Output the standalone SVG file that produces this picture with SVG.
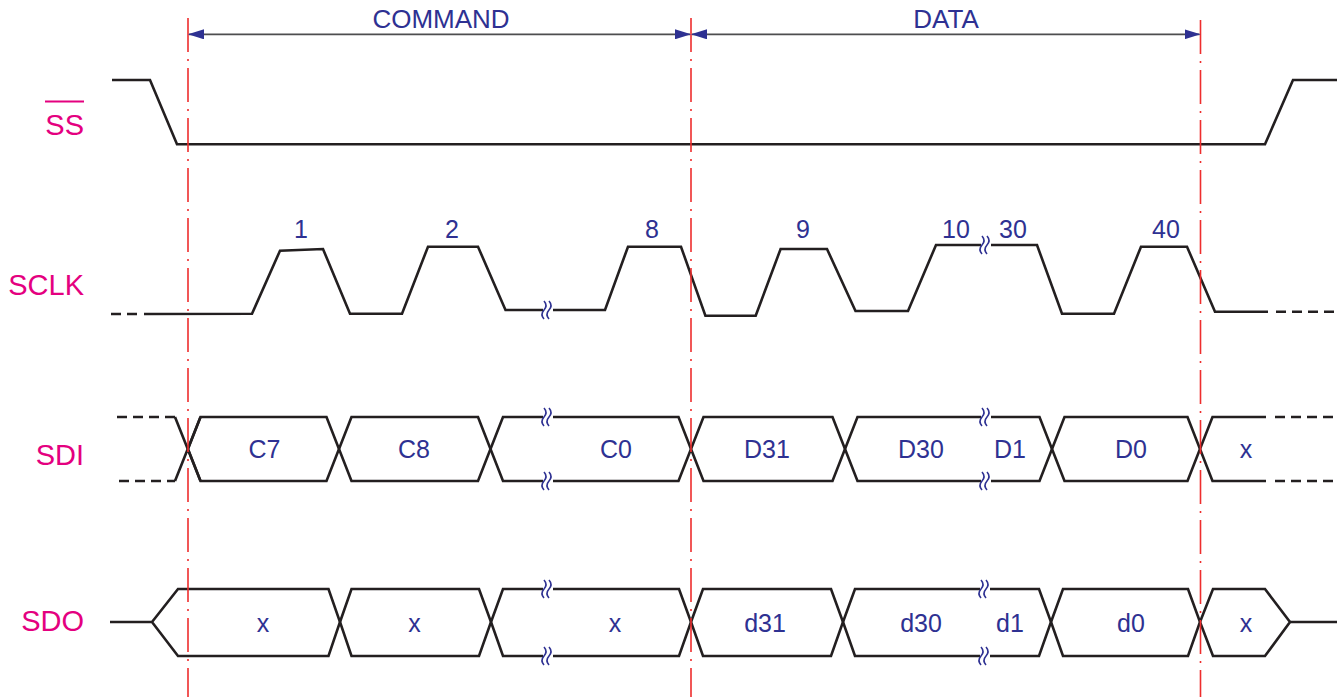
<svg xmlns="http://www.w3.org/2000/svg" xmlns:xlink="http://www.w3.org/1999/xlink" width="1342" height="697" viewBox="0 0 1342 697">
<style>
.w{fill:none;stroke:#231f20;stroke-width:2.6;stroke-linejoin:miter}
.d{fill:none;stroke:#231f20;stroke-width:2.6;stroke-dasharray:10 6}
.sig{font-family:"Liberation Sans",Arial,sans-serif;font-size:29px;fill:#e4007f;text-anchor:end}
.lb{font-family:"Liberation Sans",Arial,sans-serif;font-size:25px;fill:#2e3192;text-anchor:middle}
.hd{font-family:"Liberation Sans",Arial,sans-serif;font-size:26px;fill:#2e3192;text-anchor:middle}
.red{stroke:#ee2d2d;stroke-width:1.6;stroke-dasharray:34 7 2 7;fill:none}
.ar{stroke:#4d4d4f;stroke-width:1.8;fill:none}
.bw{fill:none;stroke:#2e3192;stroke-width:1.6}
</style>
<defs>
<marker id="ah" viewBox="0 0 16 10" refX="15" refY="5" markerWidth="16" markerHeight="10" markerUnits="userSpaceOnUse" orient="auto-start-reverse">
<path d="M0,0 L16,5 L0,10 z" fill="#2e3192"/>
</marker>
<g id="brk">
<rect x="-4" y="-10" width="10" height="20" fill="#fff"/>
<path class="bw" d="M-3,-9 q4,4.5 0,9 q-4,4.5 0,9"/>
<path class="bw" d="M2,-9 q4,4.5 0,9 q-4,4.5 0,9"/>
</g>
</defs>
<rect width="1342" height="697" fill="#fff"/>

<g id="ss">
<text class="sig" x="84" y="135">SS</text>
<line x1="45" y1="101.5" x2="84" y2="101.5" stroke="#e4007f" stroke-width="2"/>
<path class="w" d="M112,80 L150,80 L177,144.3 L1265,144.3 L1293,80 L1337,80"/>
</g>

<g id="sclk">
<text class="sig" x="84" y="295">SCLK</text>
<path class="d" d="M111,314 L140,314"/>
<path class="w" d="M144,314 L252,313.7 L280,250.7 L323,249 L350,313.7 L402,313.7 L428,246.7 L478,246.7 L505.5,310 L605,310 L628,246.7 L681,246.7 L705.4,315.7 L755.7,315.7 L780.6,249 L827,249 L855.5,311 L908,311 L936,245 L1037,245 L1062,313.7 L1114,313.7 L1141,246.7 L1187,246.7 L1215,311.7 L1268,311.7"/>
<path class="d" d="M1276,311.7 L1336,311.7"/>
<use xlink:href="#brk" href="#brk" x="547" y="310"/>
<use xlink:href="#brk" href="#brk" x="985" y="245"/>
<text class="lb" x="301" y="238">1</text>
<text class="lb" x="452" y="238">2</text>
<text class="lb" x="652" y="238">8</text>
<text class="lb" x="803" y="238">9</text>
<text class="lb" x="956" y="238">10</text>
<text class="lb" x="1013" y="238">30</text>
<text class="lb" x="1166" y="238">40</text>
</g>

<g id="sdi">
<text class="sig" x="84" y="465">SDI</text>
<path class="d" d="M117,417 L175,417"/>
<path class="d" d="M119,481 L175,481"/>
<path class="w" d="M175,417 L200.5,481 M175,481 L200.5,417"/>
<path class="w" d="M188,449 L200.5,417 L326.5,417 L339,449 L326.5,481 L200.5,481 Z"/>
<path class="w" d="M339,449 L351.5,417 L478,417 L490.5,449 L478,481 L351.5,481 Z"/>
<path class="w" d="M490.5,449 L503,417 L678.5,417 L691,449 L678.5,481 L503,481 Z"/>
<path class="w" d="M691,449 L703.5,417 L832.5,417 L845,449 L832.5,481 L703.5,481 Z"/>
<path class="w" d="M845,449 L857.5,417 L1039.5,417 L1052,449 L1039.5,481 L857.5,481 Z"/>
<path class="w" d="M1052,449 L1064.5,417 L1187.5,417 L1200,449 L1187.5,481 L1064.5,481 Z"/>
<path class="w" d="M1266,417 L1212.5,417 L1200,449 L1212.5,481 L1266,481"/>
<path class="d" d="M1275,417 L1336,417 M1275,481 L1336,481"/>
<use xlink:href="#brk" href="#brk" x="547" y="417"/>
<use xlink:href="#brk" href="#brk" x="547" y="481"/>
<use xlink:href="#brk" href="#brk" x="985" y="417"/>
<use xlink:href="#brk" href="#brk" x="985" y="481"/>
<text class="lb" x="264.5" y="458">C7</text>
<text class="lb" x="414" y="458">C8</text>
<text class="lb" x="616" y="458">C0</text>
<text class="lb" x="767" y="458">D31</text>
<text class="lb" x="921" y="458">D30</text>
<text class="lb" x="1010" y="458">D1</text>
<text class="lb" x="1131" y="458">D0</text>
<text class="lb" x="1246" y="458">x</text>
</g>

<g id="sdo">
<text class="sig" x="84" y="631">SDO</text>
<path class="w" d="M110,622 L152,622 L178,589 L328.5,589 L340,622 L328.5,656 L178,656 L152,622"/>
<path class="w" d="M340,622 L351.5,589 L479,589 L491,622 L479,656 L351.5,656 Z"/>
<path class="w" d="M491,622 L503,589 L679,589 L691,622 L679,656 L503,656 Z"/>
<path class="w" d="M691,622 L703,589 L831,589 L843,622 L831,656 L703,656 Z"/>
<path class="w" d="M843,622 L855,589 L1039,589 L1051,622 L1039,656 L855,656 Z"/>
<path class="w" d="M1051,622 L1063,589 L1188,589 L1200,622 L1188,656 L1063,656 Z"/>
<path class="w" d="M1200,622 L1213,589 L1265,589 L1290,622 L1265,656 L1213,656 Z"/>
<path class="w" d="M1290,622 L1337,622"/>
<use xlink:href="#brk" href="#brk" x="547" y="589"/>
<use xlink:href="#brk" href="#brk" x="547" y="656"/>
<use xlink:href="#brk" href="#brk" x="984" y="589"/>
<use xlink:href="#brk" href="#brk" x="984" y="656"/>
<text class="lb" x="263" y="632">x</text>
<text class="lb" x="414.5" y="632">x</text>
<text class="lb" x="615" y="632">x</text>
<text class="lb" x="765" y="632">d31</text>
<text class="lb" x="921" y="632">d30</text>
<text class="lb" x="1010" y="632">d1</text>
<text class="lb" x="1131" y="632">d0</text>
<text class="lb" x="1246" y="632">x</text>
</g>

<g id="phase-markers">
<line class="red" x1="188" y1="18" x2="188" y2="697"/>
<line class="red" x1="691" y1="18" x2="691" y2="697"/>
<line class="red" x1="1200.5" y1="20" x2="1200.5" y2="697"/>
</g>

<g id="connectors">
<line class="ar" x1="189" y1="34.3" x2="690" y2="34.3" marker-start="url(#ah)" marker-end="url(#ah)"/>
<line class="ar" x1="692" y1="34.3" x2="1199.5" y2="34.3" marker-start="url(#ah)" marker-end="url(#ah)"/>
<text class="hd" x="441" y="28">COMMAND</text>
<text class="hd" x="946" y="28">DATA</text>
</g>
</svg>
